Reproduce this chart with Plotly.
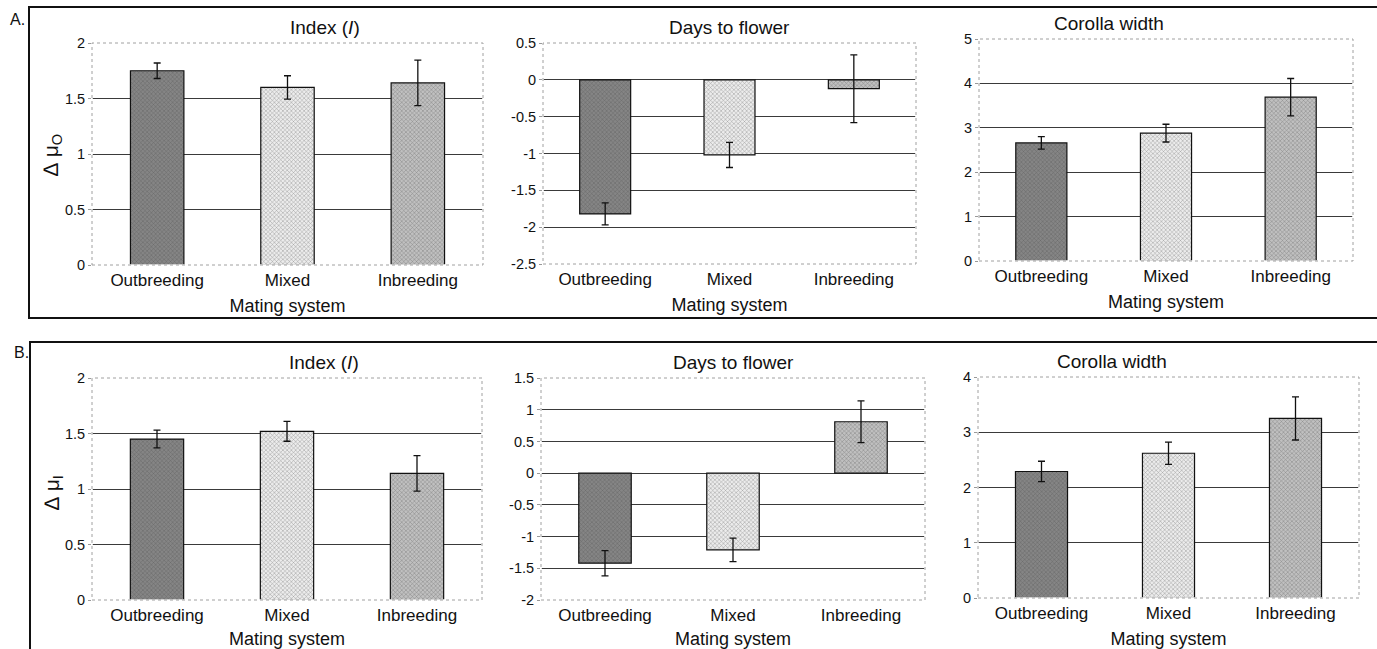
import plotly.graph_objects as go

W, H = 1377, 649
FONT = "Liberation Sans, Arial, sans-serif"

categories = ["Outbreeding", "Mixed", "Inbreeding"]
bar_colors = ["#858585", "#ececec", "#c0c0c0"]
pattern_colors = ["#505050", "#cacaca", "#929292"]

titles = ["Index (<i>I</i>)", "Days to flower", "Corolla width"]

# Row A (delta mu_O)
a_index = [1.75, 1.60, 1.64]
a_index_err = [0.07, 0.105, 0.205]
a_days = [-1.82, -1.02, -0.12]
a_days_err = [0.15, 0.17, 0.46]
a_corolla = [2.66, 2.88, 3.69]
a_corolla_err = [0.14, 0.20, 0.42]

# Row B (delta mu_I)
b_index = [1.45, 1.52, 1.14]
b_index_err = [0.08, 0.09, 0.16]
b_days = [-1.42, -1.21, 0.81]
b_days_err = [0.20, 0.185, 0.33]
b_corolla = [2.29, 2.62, 3.25]
b_corolla_err = [0.185, 0.20, 0.39]

# tick values
ticks_index = [0, 0.5, 1, 1.5, 2]
ticks_days_a = [-2.5, -2, -1.5, -1, -0.5, 0, 0.5]
ticks_days_b = [-2, -1.5, -1, -0.5, 0, 0.5, 1, 1.5]
ticks_corolla_a = [0, 1, 2, 3, 4, 5]
ticks_corolla_b = [0, 1, 2, 3, 4]


def lab(v):
    return "%g" % v


# plot-area pixel boxes: (left, right, top, bottom)
boxes = [
    (92, 483, 43, 265),
    (543, 916, 43, 264),
    (979, 1353, 39, 261),
    (92, 482, 378, 600),
    (541, 925, 378, 600),
    (978, 1359, 377, 598),
]

panels = [
    (a_index, a_index_err, ticks_index),
    (a_days, a_days_err, ticks_days_a),
    (a_corolla, a_corolla_err, ticks_corolla_a),
    (b_index, b_index_err, ticks_index),
    (b_days, b_days_err, ticks_days_b),
    (b_corolla, b_corolla_err, ticks_corolla_b),
]

fig = go.Figure()
shapes = []
annotations = []

for i, ((vals, errs, tv), (l, r, t, b)) in enumerate(zip(panels, boxes)):
    n = i + 1
    xa = "x" if n == 1 else f"x{n}"
    ya = "y" if n == 1 else f"y{n}"
    fig.add_trace(go.Bar(
        x=categories, y=vals,
        marker=dict(color=bar_colors, line=dict(color="#111", width=1.2),
                    pattern=dict(shape="x", size=3, solidity=0.3,
                                 fgcolor=pattern_colors, bgcolor=bar_colors,
                                 fillmode="overlay")),
        error_y=dict(type="data", array=errs, visible=True, color="#111",
                     thickness=1.3, width=3.5),
        width=0.41,
        xaxis=xa, yaxis=ya, showlegend=False,
    ))
    xd = [l / W, r / W]
    yd = [1 - b / H, 1 - t / H]
    fig.layout[f"xaxis{'' if n == 1 else n}"] = dict(
        domain=xd, anchor=ya, showgrid=False, zeroline=False, automargin=False,
        showline=False, ticks="", tickfont=dict(size=17, color="#111", family=FONT),
        ticklabelstandoff=3,
        title=dict(text="Mating system", font=dict(size=18, color="#111", family=FONT),
                   standoff=10),
        fixedrange=True,
    )
    fig.layout[f"yaxis{'' if n == 1 else n}"] = dict(
        domain=yd, anchor=xa, range=[tv[0], tv[-1]], automargin=False,
        tickvals=tv, ticktext=[lab(v) for v in tv],
        showgrid=True, gridcolor="#3a3a3a", gridwidth=1, zeroline=False,
        showline=False, ticks="outside", ticklen=3, tickcolor="#999",
        tickfont=dict(size=14.5, color="#111", family=FONT),
        fixedrange=True,
    )
    # plot-area border (dotted gray)
    for lw, col, dash in [(1.6, "white", "solid"), (1, "#a0a0a0", "dot")]:
        shapes.append(dict(type="rect", xref="paper", yref="paper",
                           x0=xd[0], x1=xd[1], y0=yd[0], y1=yd[1], layer="above",
                           line=dict(color=col, width=lw, dash=dash)))
    annotations.append(dict(text=titles[i % 3], xref="paper", yref="paper",
                            x=(xd[0] + xd[1]) / 2, y=yd[1], yshift=3, yanchor="bottom",
                            showarrow=False,
                            font=dict(size=19, color="#111", family=FONT)))

# outer frames for A and B
shapes.append(dict(type="rect", xref="paper", yref="paper",
                   x0=29 / W, x1=1 + 5 / W, y0=1 - 318 / H, y1=1 - 7 / H,
                   line=dict(color="#111", width=2)))
shapes.append(dict(type="rect", xref="paper", yref="paper",
                   x0=30 / W, x1=1 + 5 / W, y0=-0.02, y1=1 - 342 / H,
                   line=dict(color="#111", width=2)))

annotations += [
    dict(text="A.", xref="paper", yref="paper", x=8 / W, y=1 - 20 / H,
         xanchor="left", yanchor="middle", showarrow=False,
         font=dict(size=16, color="#111", family=FONT)),
    dict(text="B.", xref="paper", yref="paper", x=12 / W, y=1 - 352 / H,
         xanchor="left", yanchor="middle", showarrow=False,
         font=dict(size=16, color="#111", family=FONT)),
    dict(text="∆ μ<sub>O</sub>", xref="paper", yref="paper", x=52 / W, y=1 - 155 / H,
         xanchor="center", yanchor="middle", textangle=-90, showarrow=False,
         font=dict(size=21, color="#111", family=FONT)),
    dict(text="∆ μ<sub>I</sub>", xref="paper", yref="paper", x=53 / W, y=1 - 492 / H,
         xanchor="center", yanchor="middle", textangle=-90, showarrow=False,
         font=dict(size=21, color="#111", family=FONT)),
]

fig.update_layout(
    width=W, height=H, margin=dict(l=0, r=0, t=0, b=0, autoexpand=False),
    paper_bgcolor="white", plot_bgcolor="white",
    font=dict(family=FONT, color="#111"),
    shapes=shapes, annotations=annotations, bargap=0.6,
)

fig.write_html("out.html", config={"displayModeBar": False},
               post_script="document.body.style.margin='0';document.body.style.overflow='hidden';")
